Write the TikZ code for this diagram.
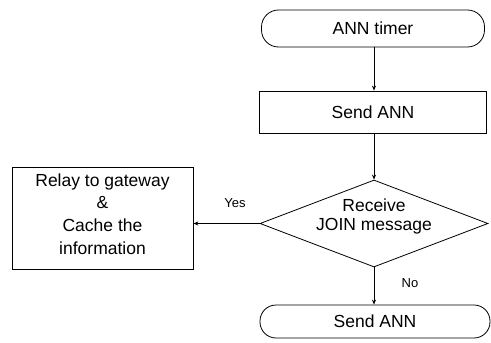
\documentclass[tikz,border=0pt]{standalone}
\usepackage{fontspec}
\setmainfont{Liberation Sans}
\usetikzlibrary{shapes.geometric,arrows.meta}
\begin{document}
\begin{tikzpicture}[x=1pt,y=-1pt,
  every node/.style={font=\fontsize{17.5}{22.7}\selectfont},
  terminal/.style={draw,rounded corners=17pt,line width=0.8pt,inner sep=0pt},
  process/.style={draw,rectangle,line width=0.8pt,inner sep=0pt},
  decision/.style={draw,diamond,line width=0.8pt,inner sep=0pt},
  flow/.style={line width=0.8pt,-{Stealth[length=5pt,width=4pt]}},
  edgelabel/.style={font=\fontsize{13}{15}\selectfont}]
\useasboundingbox (0,0) rectangle (491,343);
% start, steps and end
\node[terminal,minimum width=223pt,minimum height=37pt] (timer) at (373,28.5) {ANN timer};
\node[process,minimum width=227pt,minimum height=42pt] (send) at (373,112) {Send ANN};
\node[decision,minimum width=228pt,minimum height=87pt] (recv) at (374,223.5) {};
\node[align=center,font=\fontsize{17.5}{19}\selectfont] (recvtext) at (374,216) {Receive\\JOIN message};
\node[process,minimum width=181pt,minimum height=102pt] (relay) at (102.5,218) {};
\node[align=center] (relaytext) at (102.5,214) {Relay to gateway\\\&\\Cache the\\information};
\node[terminal,minimum width=230pt,minimum height=33pt,rounded corners=16pt] (sendend) at (375,321.5) {Send ANN};
% connectors
\draw[flow] (timer.south -| send.north) ++(1,0) coordinate (c1) -- (c1 |- send.north);
\draw[flow] (send.south) ++(1,0) coordinate (c2) -- (recv.north);
\draw[flow] (recv.west) -- (relay.east |- recv.west);
\draw[flow] (recv.south) -- (recv.south |- sendend.north);
% branch labels
\node[edgelabel] (yes) at (235,203) {Yes};
\node[edgelabel] (no) at (410,283) {No};
\end{tikzpicture}
\end{document}
